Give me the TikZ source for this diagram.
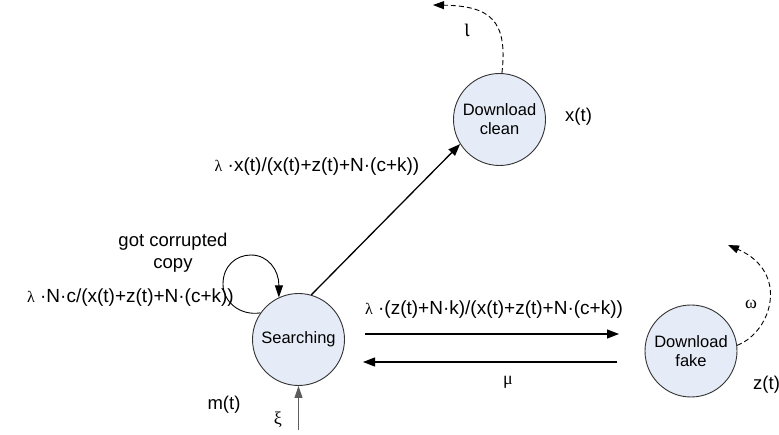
\documentclass[tikz,border=0pt]{standalone}
\usepackage{fontspec}
\setmainfont{Liberation Sans}
\newfontfamily\grk{Liberation Serif}
\usetikzlibrary{arrows.meta}
\definecolor{nodefill}{HTML}{E6ECF7}
\definecolor{edgegray}{HTML}{333333}
\newcommand{\lam}{{\grk\fontsize{16}{16}\selectfont λ}}
\newcommand{\gk}[1]{{\grk\fontsize{18}{18}\selectfont #1}}
\tikzset{
  state/.style={circle, draw=edgegray, line width=0.9pt, fill=nodefill, minimum size=92pt, inner sep=0pt, align=center, font=\fontsize{16.5}{19}\selectfont},
  lbl/.style={inner sep=0pt, font=\fontsize{18.5}{22}\selectfont},
  flbl/.style={inner sep=0pt, font=\fontsize{19}{22}\selectfont},
  arr/.style={line width=1.3pt, -{Triangle[length=12pt,width=9pt]}},
  thinarr/.style={line width=0.9pt, -{Triangle[length=12pt,width=8pt]}},
  dasharr/.style={line width=0.9pt, dash pattern=on 5pt off 3pt, -{Triangle[length=11pt,width=8pt]}}
}
\begin{document}
\begin{tikzpicture}[x=1pt,y=-1pt]
\useasboundingbox (0,0) rectangle (779,435);
\fill[white] (0,0) rectangle (779,435);
% states
\node[state] (S) at (298.5,339.5) {Searching};
\node[state] (C) at (499.5,119.5) {Download\\clean};
\node[state] (F) at (691,351) {Download\\fake};
% free ends
\coordinate (t1) at (365,334);
\coordinate (t2) at (619,334);
\coordinate (b1) at (617,362);
\coordinate (b2) at (363,362);
\coordinate (xi) at (298.5,430);
\coordinate (cl) at (433,5);
\coordinate (fk) at (728,245);
% connectors
\draw[arr] (S.74) -- (C.212);
\draw[arr] (t1) -- (t2);
\draw[arr] (b1) -- (b2);
\draw[thinarr, draw=edgegray!80] (xi) -- (S.south);
\draw[thinarr] (S.145) .. controls (240,316) and (223,302) .. (223,284)
  .. controls (223,266) and (236,255) .. (251,255)
  .. controls (268,255) and (279,270) .. (S.115);
\draw[dasharr] (C.87) .. controls (508,20) and (490,6) .. (cl);
\draw[dasharr] (F.7) .. controls (772,332) and (790,272) .. (fk);
% labels
\node[flbl] (l1) at (317,167) {\lam\ ·x(t)/(x(t)+z(t)+N·(c+k))};
\node[flbl, anchor=east] (l2) at (234,298) {\lam\ ·N·c/(x(t)+z(t)+N·(c+k))};
\node[flbl] (l3) at (494,310) {\lam\ ·(z(t)+N·k)/(x(t)+z(t)+N·(c+k))};
\node[lbl, align=center] (gc) at (173,253) {got corrupted\\copy};
\node[lbl, anchor=west] (xt) at (565,117) {x(t)};
\node[lbl, anchor=west] (zt) at (753,385) {z(t)};
\node[lbl] (mt) at (224,405) {m(t)};
\node[lbl] (mu) at (508,382) {\gk{μ}};
\node[lbl] (om) at (751,304) {\gk{ω}};
\node[lbl] (io) at (467,30) {\scalebox{1.1}[1.5]{\gk{ι}}};
\node[lbl] (xl) at (278,420) {\gk{ξ}};
\end{tikzpicture}
\end{document}
